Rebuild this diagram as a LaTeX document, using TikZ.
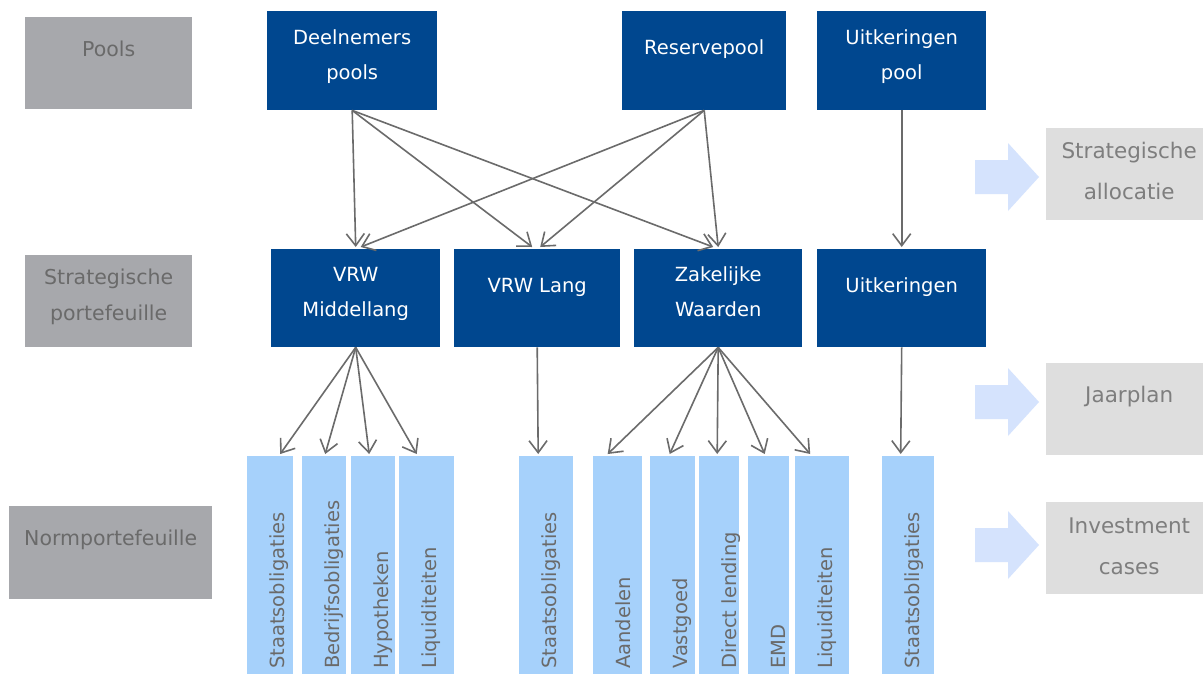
\documentclass[tikz,border=0pt]{standalone}
\usepackage{fontspec}
\setmainfont{DejaVu Sans}
\usetikzlibrary{arrows.meta}
\definecolor{navy}{HTML}{00478F}
\definecolor{barblue}{HTML}{A6D1FB}
\definecolor{midgray}{HTML}{A7A8AC}
\definecolor{palegray}{HTML}{DEDEDE}
\definecolor{arrowgray}{HTML}{6B6B6B}
\definecolor{blockblue}{HTML}{D5E3FD}
\definecolor{txtgray}{HTML}{6A6A6A}
\definecolor{txtgraylt}{HTML}{7E7E7E}
\newcommand{\bxt}[4]{\parbox[b][#2pt][t]{#1pt}{\centering\fontsize{19.5pt}{35pt}\selectfont\rule{0pt}{#3pt}#4\par}}
\newcommand{\bxtl}[4]{\parbox[b][#2pt][t]{#1pt}{\centering\fontsize{20.5pt}{36pt}\selectfont\rule{0pt}{#3pt}#4\par}}
\newcommand{\bxtr}[4]{\parbox[b][#2pt][t]{#1pt}{\centering\fontsize{21.5pt}{41pt}\selectfont\rule{0pt}{#3pt}#4\par}}
\tikzset{
  navybox/.style={fill=navy, text=white, inner sep=0pt, anchor=north west},
  leftbox/.style={fill=midgray, text=txtgray, inner sep=0pt, anchor=north west},
  rightbox/.style={fill=palegray, text=txtgraylt, inner sep=0pt, anchor=north west},
  barbox/.style={fill=barblue, inner sep=0pt, anchor=north west, minimum height=230pt},
  bartext/.style={rotate=90, anchor=base west, inner sep=0pt, text=txtgray, font=\fontsize{19.5pt}{23pt}\selectfont},
  conn/.style={draw=arrowgray, line width=1.6pt, -{Straight Barb[length=12pt,width=18pt,line width=1.6pt]}},
  blockarrow/.style={fill=blockblue}
}
\begin{document}
\begin{tikzpicture}[x=1pt,y=-1pt]
\useasboundingbox (0,0) rectangle (1203,673);
\fill[white] (0,0) rectangle (1203,673);

% left labels
\node[leftbox] (pools) at (25,17) {\bxtl{167}{92}{39}{Pools}};
\node[leftbox] (sp) at (25,255) {\bxtl{167}{92}{29}{Strategische\\portefeuille}};
\node[leftbox] (np) at (9,506) {\bxtl{203}{93}{39}{Normportefeuille}};

% right labels
\node[rightbox] (sa) at (1046,128) {\bxtr{166}{92}{30}{Strategische\\allocatie}};
\node[rightbox] (jp) at (1046,363) {\bxtr{166}{92}{39}{Jaarplan}};
\node[rightbox] (ic) at (1046,502) {\bxtr{166}{92}{31}{Investment\\cases}};

% block arrows
\fill[blockblue] (975,160) -- (1008,160) -- (1008,143) -- (1039,177) -- (1008,211) -- (1008,194) -- (975,194) -- cycle;
\fill[blockblue] (975,385) -- (1008,385) -- (1008,368) -- (1039,402) -- (1008,436) -- (1008,419) -- (975,419) -- cycle;
\fill[blockblue] (975,528) -- (1008,528) -- (1008,511) -- (1039,545) -- (1008,579) -- (1008,562) -- (975,562) -- cycle;

% pools
\node[navybox] (dp) at (267,11) {\bxt{170}{99}{33}{Deelnemers\\pools}};
\node[navybox] (rp) at (622,11) {\bxt{164}{99}{43}{Reservepool}};
\node[navybox] (up) at (817,11) {\bxt{169}{99}{33}{Uitkeringen\\pool}};

% strategic portfolio
\node[navybox] (vm) at (271,249) {\bxt{169}{98}{32}{VRW\\Middellang}};
\node[navybox] (vl) at (454,249) {\bxt{166}{98}{43}{VRW Lang}};
\node[navybox] (zw) at (634,249) {\bxt{168}{98}{32}{Zakelijke\\Waarden}};
\node[navybox] (uk) at (817,249) {\bxt{169}{98}{43}{Uitkeringen}};

% bars
\node[barbox, minimum width=46pt] (b1) at (247,456) {};
\node[barbox, minimum width=44pt] (b2) at (302,456) {};
\node[barbox, minimum width=44pt] (b3) at (351,456) {};
\node[barbox, minimum width=55pt] (b4) at (399,456) {};
\node[barbox, minimum width=54pt] (b5) at (519,456) {};
\node[barbox, minimum width=49pt] (b6) at (593,456) {};
\node[barbox, minimum width=45pt] (b7) at (650,456) {};
\node[barbox, minimum width=40pt] (b8) at (699,456) {};
\node[barbox, minimum width=41pt] (b9) at (748,456) {};
\node[barbox, minimum width=54pt] (b10) at (795,456) {};
\node[barbox, minimum width=52pt] (b11) at (882,456) {};

\node[bartext] (t1) at (284,669) {Staatsobligaties};
\node[bartext] (t2) at (339,669) {Bedrijfsobligaties};
\node[bartext] (t3) at (388,669) {Hypotheken};
\node[bartext] (t4) at (436,669) {Liquiditeiten};
\node[bartext] (t5) at (556,669) {Staatsobligaties};
\node[bartext] (t6) at (630,669) {Aandelen};
\node[bartext] (t7) at (687,669) {Vastgoed};
\begin{scope}
\clip (699,456) rectangle (739,680);
\node[bartext] (t8) at (736,669) {Direct lending};
\end{scope}
\node[bartext] (t9) at (785,669) {EMD};
\node[bartext] (t10) at (832,669) {Liquiditeiten};
\node[bartext] (t11) at (919,669) {Staatsobligaties};

% connectors pools -> strategic
\draw[conn] (dp.south) -- ([xshift=0pt,yshift=2pt]vm.north);
\draw[conn] (dp.south) -- ([xshift=-5pt,yshift=2pt]vl.north);
\draw[conn] (dp.south) -- ([xshift=-5pt,yshift=2pt]zw.north);
\draw[conn] (rp.south) -- ([xshift=5pt,yshift=2pt]vm.north);
\draw[conn] (rp.south) -- ([xshift=3pt,yshift=2pt]vl.north);
\draw[conn] (rp.south) -- ([xshift=0pt,yshift=2pt]zw.north);
\draw[conn] (up.south) -- ([yshift=2pt]uk.north);

% connectors strategic -> norm
\draw[conn] (vm.south) -- ([xshift=10pt,yshift=2pt]b1.north);
\draw[conn] (vm.south) -- ([xshift=1pt,yshift=2pt]b2.north);
\draw[conn] (vm.south) -- ([xshift=-4pt,yshift=2pt]b3.north);
\draw[conn] (vm.south) -- ([xshift=-10pt,yshift=2pt]b4.north);
\draw[conn] (vl.south) -- ([xshift=-8pt,yshift=2pt]b5.north);
\draw[conn] (zw.south) -- ([xshift=-10pt,yshift=2pt]b6.north);
\draw[conn] (zw.south) -- ([xshift=-3pt,yshift=2pt]b7.north);
\draw[conn] (zw.south) -- ([xshift=-2pt,yshift=2pt]b8.north);
\draw[conn] (zw.south) -- ([xshift=-4pt,yshift=2pt]b9.north);
\draw[conn] (zw.south) -- ([xshift=-12pt,yshift=2pt]b10.north);
\draw[conn] (uk.south) -- ([xshift=-7.5pt,yshift=2pt]b11.north);
\end{tikzpicture}
\end{document}
